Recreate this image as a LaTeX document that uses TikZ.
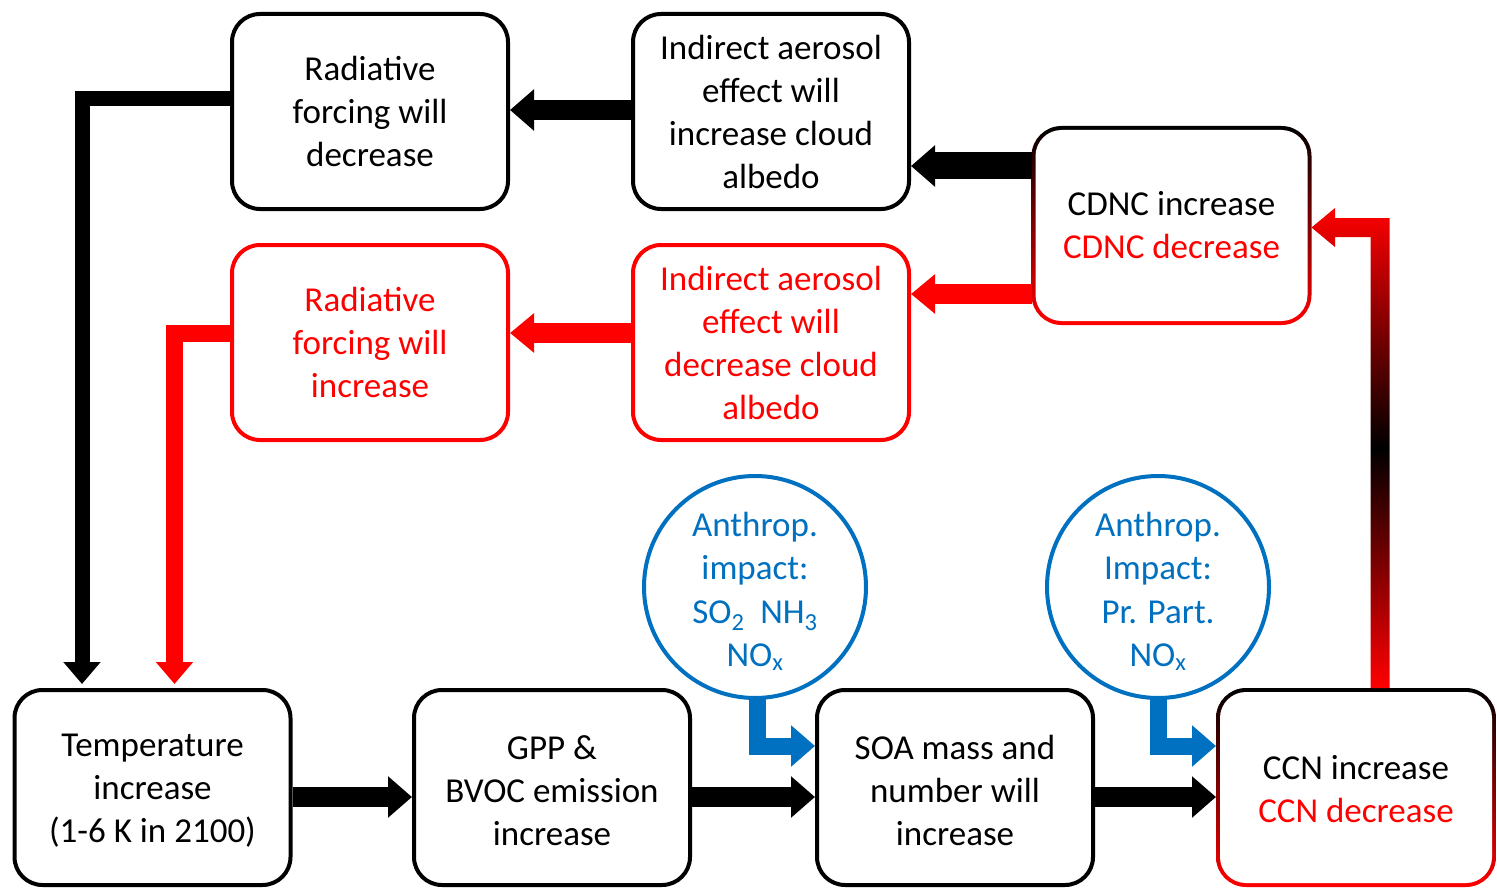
\documentclass[tikz,border=0pt]{standalone}
\usepackage{fontspec}
\setmainfont{Carlito}
\usetikzlibrary{arrows.meta,calc}
\definecolor{offblue}{RGB}{0,112,192}
\definecolor{offred}{RGB}{255,0,0}
\begin{document}
\begin{tikzpicture}[x=1pt,y=-1pt,
  txt/.style={align=center, inner sep=0pt, font=\fontsize{35}{43}\selectfont},
  box/.style={txt, draw, line width=4pt, rounded corners=28pt, minimum width=276pt, minimum height=195pt},
  redbox/.style={box, draw=offred, text=offred},
  gbox/.style={box, draw=none},
  circ/.style={circle, draw=offblue, line width=4pt, minimum size=222pt, inner sep=0pt},
  ctxt/.style={txt, text=offblue, font=\fontsize{35}{43.5}\selectfont},
  blk/.style={draw=black, line width=20pt, -{Triangle[width=40pt,length=24pt]}},
  blkthick/.style={draw=black, line width=27pt, -{Triangle[width=40pt,length=24pt]}},
  redarr/.style={draw=offred, line width=20pt, -{Triangle[width=38pt,length=24pt]}},
  elbowblk/.style={draw=black, line width=15pt, line join=miter, -{Triangle[width=36pt,length=22pt]}},
  elbowred/.style={draw=offred, line width=17pt, line join=miter, -{Triangle[width=36pt,length=22pt]}},
  bluearr/.style={draw=offblue, line width=17pt, line join=miter, -{Triangle[width=40pt,length=24pt]}},
]
\useasboundingbox (0,0) rectangle (1497,888);
\fill[white] (0,0) rectangle (1497,888);

% gradient box borders
\shade[top color=black, bottom color=offred, rounded corners=30pt] (1031.5,126) rectangle (1311.5,325);
\fill[white, rounded corners=26pt] (1035.5,130) rectangle (1307.5,321);
\shade[top color=black, bottom color=offred, rounded corners=30pt] (1216,688) rectangle (1496,887);
\fill[white, rounded corners=26pt] (1220,692) rectangle (1492,883);

% upper boxes
\node[box] (rad1) at (370,111.5) {Radiative\\forcing will\\decrease};
\node[box] (ind1) at (771,111.5) {Indirect aerosol\\effect will\\increase cloud\\albedo};
\node[gbox] (cdnc) at (1171.5,225.5) {CDNC increase\\\textcolor{offred}{CDNC decrease}};
\node[redbox] (rad2) at (370,342.5) {Radiative\\forcing will\\increase};
\node[redbox] (ind2) at (771,342.5) {Indirect aerosol\\effect will\\decrease cloud\\albedo};

% lower boxes (text set slightly below centre, as in the reference)
\node[box] (temp) at (152.5,787.5) {};
\node[gbox] (ccn) at (1356,787.5) {};
\node[box] (gpp) at (552,787.5) {};
\node[box] (soa) at (955,787.5) {};
\node[txt] (tempt) at ($(temp.center)+(0,3)$) {Temperature\\increase\\(1-6 K in 2100)};
\node[txt] (gppt) at ($(gpp.center)+(0,3)$) {GPP \&\\BVOC emission\\increase};
\node[txt] (soat) at ($(soa.center)+(0,3)$) {SOA mass and\\number will\\increase};
\node[txt] (ccnt) at ($(ccn.center)+(0,2)$) {CCN increase\\\textcolor{offred}{CCN decrease}};

% circles
\node[circ] (c1) at (755,587) {};
\node[circ] (c2) at (1158,587) {};
\node[ctxt] (c1t) at ($(c1.center)+(0,4)$) {Anthrop.\\impact:\\SO\textsubscript{2}~~NH\textsubscript{3}\\NO\textsubscript{x}};
\node[ctxt] (c2t) at ($(c2.center)+(0,4)$) {Anthrop.\\Impact:\\Pr. Part.\\NO\textsubscript{x}};

% helper coordinates
\coordinate (y110) at (0,110);
\coordinate (y166) at (0,166);
\coordinate (y294) at (0,294);
\coordinate (y333) at (0,333);
\coordinate (y99) at (0,99);
\coordinate (y797) at (0,797);
\coordinate (y746) at (0,746);
\coordinate (x82) at (82,0);
\coordinate (x174) at (174.5,0);
\coordinate (x757) at (757,0);
\coordinate (x1158) at (1158.5,0);

% top arrows
\draw[blk] (ind1.west |- y110) -- (rad1.east |- y110);
\draw[blkthick] (cdnc.west |- y166) -- (ind1.east |- y166);
\draw[redarr] (cdnc.west |- y294) -- (ind2.east |- y294);
\draw[redarr] (ind2.west |- y333) -- (rad2.east |- y333);

% elbows to temperature
\draw[elbowblk] (rad1.west |- y99) -| ($(temp.north -| x82)+(0,-4)$);
\draw[elbowred] (rad2.west |- y333) -| ($(temp.north -| x174)+(0,-4)$);

% bottom arrows
\draw[blk] (temp.east |- y797) -- (gpp.west |- y797);
\draw[blk] (gpp.east |- y797) -- (soa.west |- y797);
\draw[blk] (soa.east |- y797) -- (ccn.west |- y797);

% blue arrows
\draw[bluearr] ($(c1.south -| x757)+(0,-4)$) |- (soa.west |- y746);
\draw[bluearr] ($(c2.south -| x1158)+(0,-4)$) |- (ccn.west |- y746);

% gradient feedback arrow from CCN to CDNC
\shade[top color=offred, bottom color=offred, middle color=black]
  (1370.5,688) -- (1370.5,237) -- (1335,237) -- (1335,247) -- (cdnc.east |- 0,227.5)
  -- (1335,208) -- (1335,218) -- (1389.5,218) -- (1389.5,688) -- cycle;
\end{tikzpicture}
\end{document}
